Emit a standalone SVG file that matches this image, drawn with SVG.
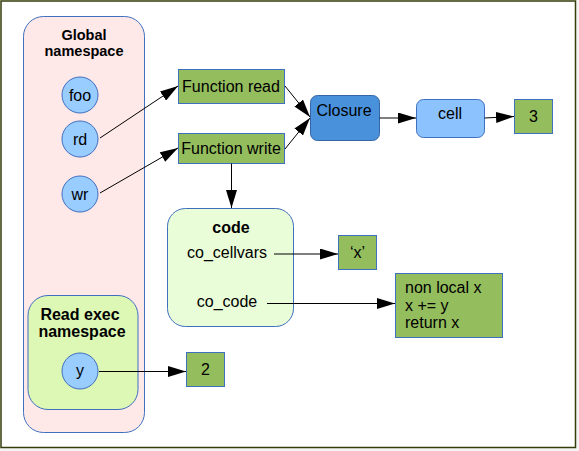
<svg xmlns="http://www.w3.org/2000/svg" width="579" height="451" viewBox="0 0 579 451">
<defs>
<marker id="ah" markerWidth="18" markerHeight="11" refX="18" refY="5.5" orient="auto" markerUnits="userSpaceOnUse">
<path d="M0,0 L18,5.5 L0,11 Z" fill="#000"/>
</marker>
<style>
text{font-family:"Liberation Sans",Arial,sans-serif;font-size:16px;fill:#000}
.b{font-weight:bold}
.s{font-size:14.5px}
.m{text-anchor:middle}
.g{fill:#94bd5e;stroke:#3f6fbf;stroke-width:1}
.c{fill:#99ccff;stroke:#3f6fbf;stroke-width:1}
.e{stroke:#000;stroke-width:1;fill:none;marker-end:url(#ah)}
</style>
</defs>
<rect x="0" y="0" width="579" height="451" fill="#f4f4f4"/>
<rect x="1" y="1" width="574.5" height="446.5" fill="#fff" stroke="#333d0a" stroke-width="1.5"/>
<g id="global">
<rect x="23.5" y="16.5" width="121" height="416" rx="20" fill="#ffe8e8" stroke="#3f6fbf"/>
<text class="b m s" x="84" y="40">Global</text>
<text class="b m s" x="84" y="55.5">namespace</text>
</g>
<g id="foo"><circle class="c" cx="80" cy="95" r="18"/><text class="m" x="80" y="100.5">foo</text></g>
<g id="rd"><circle class="c" cx="80" cy="139" r="18"/><text class="m" x="80" y="145">rd</text></g>
<g id="wr"><circle class="c" cx="80" cy="194" r="18"/><text class="m" x="80" y="200">wr</text></g>
<g id="readexec">
<rect x="28" y="295.5" width="110" height="114" rx="20" fill="#ddf8b4" stroke="#3f6fbf"/>
<text class="b m" x="80" y="320">Read exec</text>
<text class="b m" x="82" y="337">namespace</text>
</g>
<g id="y"><circle class="c" cx="80" cy="371" r="18"/><text class="m" x="80" y="376">y</text></g>
<g id="fread"><rect class="g" x="178.5" y="69.5" width="106" height="34"/><text class="m" x="231" y="92">Function read</text></g>
<g id="fwrite"><rect class="g" x="178.5" y="133.5" width="106" height="30"/><text class="m" x="231" y="154">Function write</text></g>
<g id="closure"><rect x="310.5" y="95.5" width="69" height="45" rx="7" fill="#4a91dc" stroke="#3465a4"/><text class="m" x="344" y="115.5">Closure</text></g>
<g id="cell"><rect x="416.5" y="99.5" width="68" height="38" rx="7" fill="#8cc2fd" stroke="#3f6fbf"/><text class="m" x="450" y="119">cell</text></g>
<g id="three"><rect class="g" x="514.5" y="99.5" width="38" height="34"/><text class="m" x="533.5" y="122">3</text></g>
<g id="code">
<rect x="167.5" y="208.5" width="126" height="118" rx="18" fill="#eafdd9" stroke="#3f6fbf"/>
<text class="b m" x="231" y="233">code</text>
<text class="m" x="227" y="258">co_cellvars</text>
<text class="m" x="227" y="307">co_code</text>
</g>
<g id="xstr"><rect class="g" x="338.5" y="235.5" width="38" height="34"/><text class="m" x="357.5" y="258">‘x’</text></g>
<g id="body">
<rect class="g" x="395.5" y="273.5" width="107" height="64"/>
<text x="405" y="293">non local x</text>
<text x="405" y="310.5">x += y</text>
<text x="405" y="328">return x</text>
</g>
<g id="two"><rect class="g" x="186.5" y="352.5" width="38" height="34"/><text class="m" x="205.5" y="375">2</text></g>
<g id="connectors">
<path class="e" d="M100,138 L178,86"/>
<path class="e" d="M100,193 L178,148"/>
<path class="e" d="M231.5,163.5 L231.5,208"/>
<path class="e" d="M285,86 L310,117"/>
<path class="e" d="M285,149 L310,118"/>
<path class="e" d="M379.5,118 L416,118"/>
<path class="e" d="M484.5,118 L514,116.5"/>
<path class="e" d="M274,254 L338,254"/>
<path class="e" d="M267,303.5 L395,303.5"/>
<path class="e" d="M99,371.5 L186,371.5"/>
</g>
</svg>
